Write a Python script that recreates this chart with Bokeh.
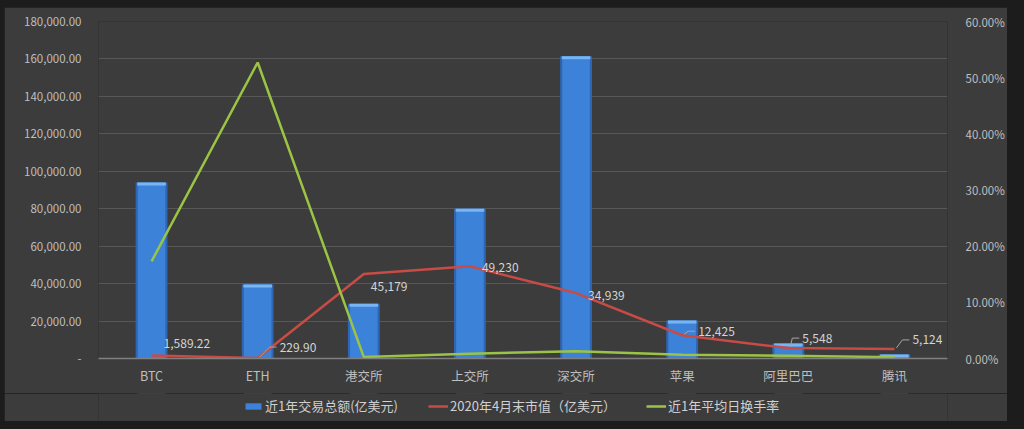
from bokeh.plotting import figure
from bokeh.layouts import column
from bokeh.models import (Range1d, LinearAxis, FixedTicker, CustomJSTickFormatter,
                          Legend, LegendItem, ColumnDataSource, FactorRange)
from bokeh.core.properties import value
from bokeh.embed import file_html
from bokeh.resources import INLINE

# ---------------- data ----------------
categories = ["BTC", "ETH", "港交所", "上交所", "深交所", "苹果", "阿里巴巴", "腾讯"]
trade_volume = [94000, 39500, 29200, 80000, 161400, 20300, 8000, 2200]        # 近1年交易总额(亿美元)
market_cap = [1589.22, 229.90, 45179, 49230, 34939, 12425, 5548, 5124]       # 2020年4月末市值（亿美元）
turnover_rate = [0.173, 0.527, 0.0025, 0.0084, 0.013, 0.0066, 0.0050, 0.0023]  # 近1年平均日换手率
left_ticks = [0, 20000, 40000, 60000, 80000, 100000, 120000, 140000, 160000, 180000]
right_ticks = [0.0, 0.1, 0.2, 0.3, 0.4, 0.5, 0.6]
series_names = ["近1年交易总额(亿美元)", "2020年4月末市值（亿美元）", "近1年平均日换手率"]

FONT = "Noto Sans CJK SC"
TXT = "#bfbfbf"
PANEL = "#3c3c3c"
BAR_EDGE, BAR_MAIN, BAR_TOP = "#2f66b4", "#3c82d8", "#79b5f2"
RED, GREEN = "#c84b46", "#9cc444"

p = figure(x_range=FactorRange(factors=categories), y_range=Range1d(0, 180000),
           width=1003, height=386, output_backend="svg", toolbar_location=None,
           min_border_left=94, min_border_right=56, min_border_top=14, min_border_bottom=35,
           background_fill_color=PANEL, border_fill_color=PANEL,
           outline_line_color=None)
p.extra_y_ranges = {"pct": Range1d(0, 0.6)}

# ---- bars ----
cap_px = 3
px_y = 180000 / 337.0
src = ColumnDataSource(dict(cat=categories, v=trade_volume,
                            capb=[max(v - cap_px * px_y, 0) for v in trade_volume]))
p.vbar(x="cat", top="v", width=0.30, source=src, fill_color=BAR_EDGE, line_color=None)
p.vbar(x="cat", top="v", width=0.26, source=src, fill_color=BAR_MAIN, line_color=None)
p.vbar(x="cat", top="v", bottom="capb", width=0.27, source=src, fill_color=BAR_TOP, line_color=None)

# ---- lines ----
p.line(categories, market_cap, line_color=RED, line_width=2.5)
p.line(categories, turnover_rate, line_color=GREEN, line_width=2.5, y_range_name="pct")

# ---- data labels for market cap ----
labels = [f"{v:,.2f}" if v < 2000 else f"{v:,.0f}" for v in market_cap]
lab_dx = [12, 22, 7, 12, 12, 16, 14, 18]
lab_dy = [-12, -11, 13, 1, 2, -4, -10, -9]
p.text(x=categories, y=market_cap, text=labels, x_offset=lab_dx, y_offset=lab_dy,
       text_font=value(FONT), text_font_size="12px", text_color="#d4d4d4",
       text_align="left", text_baseline="middle")

# leader lines (pixel offsets converted to data units)
px_x = 1 / 106.6
lx, ly = [], []
for i in [1, 5, 6, 7]:
    cx = i + 0.5
    dx, dy = lab_dx[i], lab_dy[i]
    pts = [(2, -1), (dx - 10, dy), (dx - 3, dy)]
    lx.append([cx + a * px_x for a, b in pts])
    ly.append([market_cap[i] - b * px_y for a, b in pts])
p.multi_line(lx, ly, line_color="#a6a6a6", line_width=1)

# ---- axes ----
p.xaxis.axis_line_color = "#808080"
p.xaxis.axis_line_width = 1.5
p.xaxis.major_tick_line_color = None
p.xaxis.minor_tick_line_color = None
p.xaxis.major_label_text_color = TXT
p.xaxis.major_label_text_font = FONT
p.xaxis.major_label_text_font_size = "12.5px"
p.xaxis.major_label_standoff = 1

p.yaxis.ticker = FixedTicker(ticks=left_ticks)
p.yaxis.formatter = CustomJSTickFormatter(code="""
return tick == 0 ? '-' : tick.toLocaleString('en-US', {minimumFractionDigits: 2, maximumFractionDigits: 2});""")
p.yaxis.axis_line_color = None
p.yaxis.major_tick_line_color = None
p.yaxis.minor_tick_line_color = None
p.yaxis.major_label_text_color = TXT
p.yaxis.major_label_text_font = FONT
p.yaxis.major_label_text_font_size = "11.5px"
p.yaxis.major_label_standoff = 11

ra = LinearAxis(y_range_name="pct", ticker=FixedTicker(ticks=right_ticks),
                formatter=CustomJSTickFormatter(code="return (tick*100).toFixed(2) + '%';"))
ra.axis_line_color = None
ra.major_tick_line_color = None
ra.minor_tick_line_color = None
ra.major_label_text_color = TXT
ra.major_label_text_font = FONT
ra.major_label_text_font_size = "11.5px"
ra.major_label_standoff = 12
p.add_layout(ra, "right")

p.xgrid.grid_line_color = None
p.ygrid.grid_line_color = "#575757"
p.ygrid.grid_line_width = 1

# ---- legend strip: same series, ranges chosen so only the legend keys show ----
lf = figure(x_range=FactorRange(factors=categories), y_range=Range1d(-2, -1),
            width=1003, height=28, output_backend="svg", toolbar_location=None,
            x_axis_location=None, y_axis_location=None,
            min_border_left=13, min_border_right=0, min_border_top=0, min_border_bottom=0,
            background_fill_color=PANEL, border_fill_color=PANEL, outline_line_color=None)
lf.xgrid.grid_line_color = None
lf.ygrid.grid_line_color = None
k_bar = lf.vbar(x="cat", top="v", width=0.26, source=src, fill_color=BAR_MAIN, line_color=None)
k_red = lf.line(categories, market_cap, line_color=RED, line_width=2.5)
k_green = lf.line(categories, turnover_rate, line_color=GREEN, line_width=2.5)

legend = Legend(items=[LegendItem(label=series_names[0], renderers=[k_bar]),
                       LegendItem(label=series_names[1], renderers=[k_red]),
                       LegendItem(label=series_names[2], renderers=[k_green])],
                orientation="horizontal", location=(143, 4),
                background_fill_alpha=0, border_line_alpha=0,
                label_text_color="#d0d0d0", label_text_font=FONT,
                label_text_font_size="13px", glyph_width=20, glyph_height=8,
                label_height=16, label_standoff=2, spacing=30, padding=2, margin=0)
lf.add_layout(legend, "center")

p.margin = (7, 17, 0, 4)
lf.margin = (0, 17, 8, 4)
layout = column(p, lf, spacing=0, styles={"background-color": "#1c1c1c"})

open("out.html", "w").write(file_html(layout, INLINE))
